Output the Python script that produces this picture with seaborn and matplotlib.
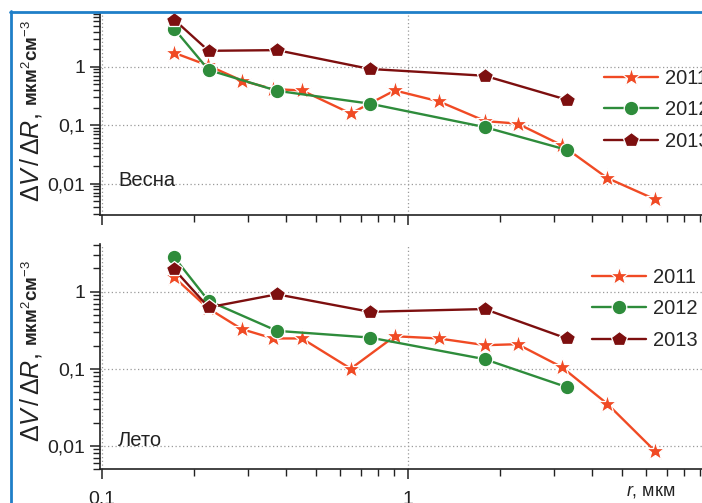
import numpy as np
import pandas as pd
import matplotlib
matplotlib.use("Agg")
import matplotlib.pyplot as plt
import seaborn as sns
from matplotlib.ticker import FixedLocator, FixedFormatter, LogLocator, NullFormatter
from matplotlib.lines import Line2D

# Стиль
sns.set_style("ticks")
plt.rcParams["font.family"] = ["Liberation Sans", "DejaVu Sans"]
plt.rcParams["mathtext.fontset"] = "custom"
plt.rcParams["mathtext.rm"] = "Liberation Sans"
plt.rcParams["mathtext.it"] = "Liberation Sans:italic"

# Данные
years = ["2011", "2012", "2013"]
r_2011 = [0.172, 0.222, 0.286, 0.362, 0.45, 0.65, 0.905, 1.26, 1.79, 2.28, 3.18, 4.48, 6.4]
r_other = [0.172, 0.223, 0.373, 0.75, 1.78, 3.3]

spring_2011 = [1.73, 1.05, 0.58, 0.414, 0.392, 0.158, 0.392, 0.255, 0.117, 0.106, 0.0453, 0.0124, 0.0054]
spring_2012 = [4.48, 0.88, 0.387, 0.233, 0.0925, 0.0377]
spring_2013 = [6.4, 1.87, 1.92, 0.915, 0.70, 0.272]

summer_2011 = [1.54, 0.61, 0.327, 0.247, 0.247, 0.100, 0.264, 0.247, 0.202, 0.208, 0.105, 0.035, 0.0086]
summer_2012 = [2.81, 0.76, 0.31, 0.254, 0.133, 0.0577]
summer_2013 = [1.96, 0.626, 0.925, 0.548, 0.595, 0.247]

y_ticks = [0.01, 0.1, 1]
y_ticklabels = ["0,01", "0,1", "1"]
x_ticks = [0.1, 1, 10]
x_ticklabels = ["0,1", "1", "10"]

colors = {"2011": "#f04a24", "2012": "#2e8c3b", "2013": "#7d0f0f"}
markers = {"2011": "*", "2012": "o", "2013": "p"}
msizes = {"2011": 14, "2012": 10.5, "2013": 11.5}


def make_df(v11, v12, v13):
    parts = [
        pd.DataFrame({"r": r_2011, "v": v11, "year": "2011"}),
        pd.DataFrame({"r": r_other, "v": v12, "year": "2012"}),
        pd.DataFrame({"r": r_other, "v": v13, "year": "2013"}),
    ]
    return pd.concat(parts, ignore_index=True)


W, H = 702, 503
fig = plt.figure(figsize=(W / 100, H / 100), dpi=100)

x_left = 0.0985
x_right = 10.0
ax_w = 614 / W

# положение панелей в пикселях
panels = [
    dict(df=make_df(spring_2011, spring_2012, spring_2013), top=13, bottom=215,
         ylim=(0.00289, 8.3), name="Весна", name_y=180, leg_x=604, leg_y=69,
         lab_y=202, unit_y=106, xlabels=False),
    dict(df=make_df(summer_2011, summer_2012, summer_2013), top=244, bottom=469.3,
         ylim=(0.00494, 4.16), name="Лето", name_y=440, leg_x=592, leg_y=268,
         lab_y=442, unit_y=346, xlabels=True),
]

for p in panels:
    ax = fig.add_axes([100 / W, 1 - p["bottom"] / H, ax_w, (p["bottom"] - p["top"]) / H])
    ax.set_xscale("log")
    ax.set_yscale("log")
    df = p["df"]
    for y in years:
        sns.lineplot(data=df[df["year"] == y], x="r", y="v", ax=ax, color=colors[y],
                     marker=markers[y], markersize=msizes[y], markeredgecolor="white",
                     markeredgewidth=0.9, linewidth=1.7, estimator=None, sort=False,
                     label=y, zorder=3)
    ax.set_xlim(x_left, x_right)
    ax.set_ylim(*p["ylim"])
    ax.set_xlabel("")
    ax.set_ylabel("")

    ax.yaxis.set_major_locator(FixedLocator(y_ticks))
    ax.yaxis.set_major_formatter(FixedFormatter(y_ticklabels))
    ax.yaxis.set_minor_locator(LogLocator(base=10, subs=np.arange(2, 10)))
    ax.yaxis.set_minor_formatter(NullFormatter())
    ax.xaxis.set_major_locator(FixedLocator(x_ticks))
    if p["xlabels"]:
        ax.xaxis.set_major_formatter(FixedFormatter(x_ticklabels))
    else:
        ax.xaxis.set_major_formatter(NullFormatter())
    ax.xaxis.set_minor_locator(LogLocator(base=10, subs=np.arange(2, 10)))
    ax.xaxis.set_minor_formatter(NullFormatter())

    ax.tick_params(which="major", direction="out", length=7.5, width=1.1, labelsize=14,
                   color="#222222", labelcolor="#222222")
    ax.tick_params(which="minor", direction="out", length=5, width=1.0, color="#222222")
    ax.tick_params(axis="y", which="major", pad=3)
    ax.tick_params(axis="x", which="major", pad=8)

    ax.grid(which="major", linestyle=(0, (1, 2)), color="#9a9a9a", linewidth=0.9)
    ax.grid(which="minor", visible=False)
    for s in ["top", "right"]:
        ax.spines[s].set_visible(False)
    for s in ["left", "bottom"]:
        ax.spines[s].set_linewidth(1.2)
        ax.spines[s].set_color("#222222")

    handles, labels = ax.get_legend_handles_labels()
    ax.legend(handles, labels, loc="upper left",
              bbox_to_anchor=(p["leg_x"] / W, 1 - p["leg_y"] / H),
              bbox_transform=fig.transFigure, frameon=False, borderpad=0, borderaxespad=0,
              handlelength=2.7, handletextpad=0.35, labelspacing=0.62, fontsize=14.5)

    fig.text(118 / W, 1 - p["name_y"] / H, p["name"], ha="left", va="center", fontsize=14.5,
             color="#222222")
    fig.text(38 / W, 1 - p["lab_y"] / H, r"$\Delta V\,/\,\Delta R$,", rotation=90,
             rotation_mode="anchor", ha="left", va="baseline", fontsize=18, color="#222222")
    fig.text(38 / W, 1 - p["unit_y"] / H, r"мкм$^2$см$^{-3}$", rotation=90,
             rotation_mode="anchor", ha="left", va="baseline", fontsize=13.5,
             fontweight="bold", color="#222222")

fig.text(626 / W, 1 - 492 / H, r"$r$, мкм", ha="left", va="center", fontsize=13,
         color="#222222")

# синяя рамка
frame_color = "#1f7fc8"
fig.add_artist(Line2D([10 / W, 1], [1 - 11.5 / H, 1 - 11.5 / H], transform=fig.transFigure,
                      color=frame_color, linewidth=2))
fig.add_artist(Line2D([10.5 / W, 10.5 / W], [0, 1 - 11 / H], transform=fig.transFigure,
                      color=frame_color, linewidth=2))

fig.savefig("out.png", dpi=100)
